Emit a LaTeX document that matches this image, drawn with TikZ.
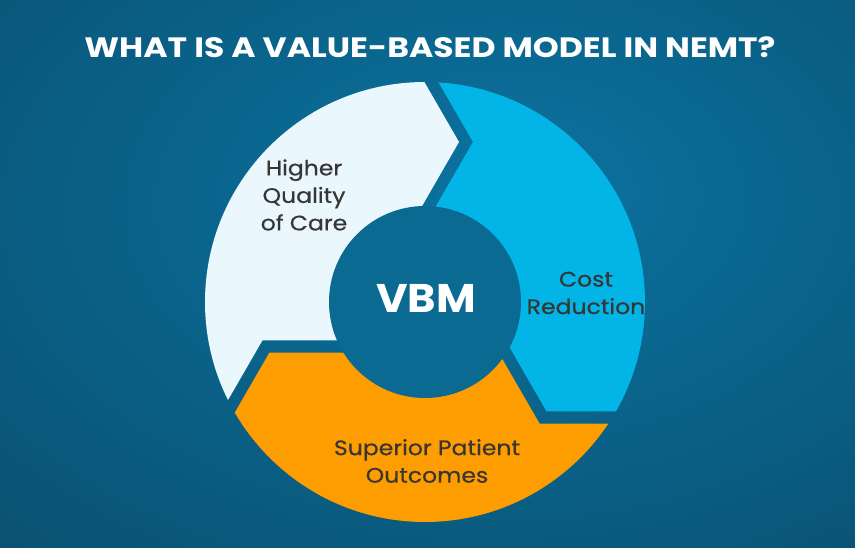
\documentclass[tikz,border=0pt]{standalone}
\usepackage{fontspec}
\setmainfont{Poppins}
\newfontfamily\titfont{Poppins}[FakeStretch=1.18]
\newfontfamily\labfont{Poppins}[FakeStretch=1.12,FakeBold=0.5]
\newfontfamily\hubfont{Poppins}[FakeStretch=1.08]
\definecolor{bgin}{HTML}{0B73A0}
\definecolor{bgmid}{HTML}{0A6188}
\definecolor{bgout}{HTML}{0B4660}
\definecolor{hubcol}{HTML}{0A6A92}
\definecolor{segLight}{HTML}{EAF7FD}
\definecolor{segBlue}{HTML}{02B5E6}
\definecolor{segOrange}{HTML}{FE9D00}
\definecolor{txtcol}{HTML}{363636}
\pgfdeclareradialshading{bgshade}{\pgfpoint{5bp}{8bp}}{color(0bp)=(bgin); color(22bp)=(bgmid); color(55bp)=(bgout); color(100bp)=(bgout)}
\begin{document}
\begin{tikzpicture}[x=1pt,y=1pt,
  label/.style={align=center,text=txtcol,font={\labfont\fontsize{21}{27.5}\selectfont}},
  titlestyle/.style={text=white,font={\titfont\fontsize{28}{32}\selectfont\bfseries}},
  hubtext/.style={text=white,font={\hubfont\fontsize{40}{42}\selectfont\bfseries}}]
\useasboundingbox (0,0) rectangle (855,547);
\shade[shading=bgshade] (0,0) rectangle (855,547);
% ring of three arrows (3-fold symmetric), centre at (425,245)
\begin{scope}[shift={(425,245)}]
  \clip (0,0) circle (220);
  \foreach \ang/\col in {0/segLight,-120/segBlue,-240/segOrange}{
    \fill[\col, rotate=\ang] (0,0) -- (-52.56,-38.44) -- (-162.56,-38.44) -- (-217.56,-133.7)
      -- (-346.4,-200) -- (-346.4,200) -- (0,400) -- (-21,255.3) -- (34,160) -- (-21,64.7) -- cycle;
  }
\end{scope}
\fill[hubcol] (425,245) circle (96);
\node[titlestyle,anchor=base] (title) at (430,489) {WHAT IS A VALUE-BASED MODEL IN NEMT?};
\node[hubtext] (hub) at (426,249) {VBM};
\node[label] (care) at (304,352) {Higher\\Quality\\of Care};
\node[label] (cost) at (586,254) {Cost\\Reduction};
\node[label] (out) at (427,86) {Superior Patient\\Outcomes};
\end{tikzpicture}
\end{document}
